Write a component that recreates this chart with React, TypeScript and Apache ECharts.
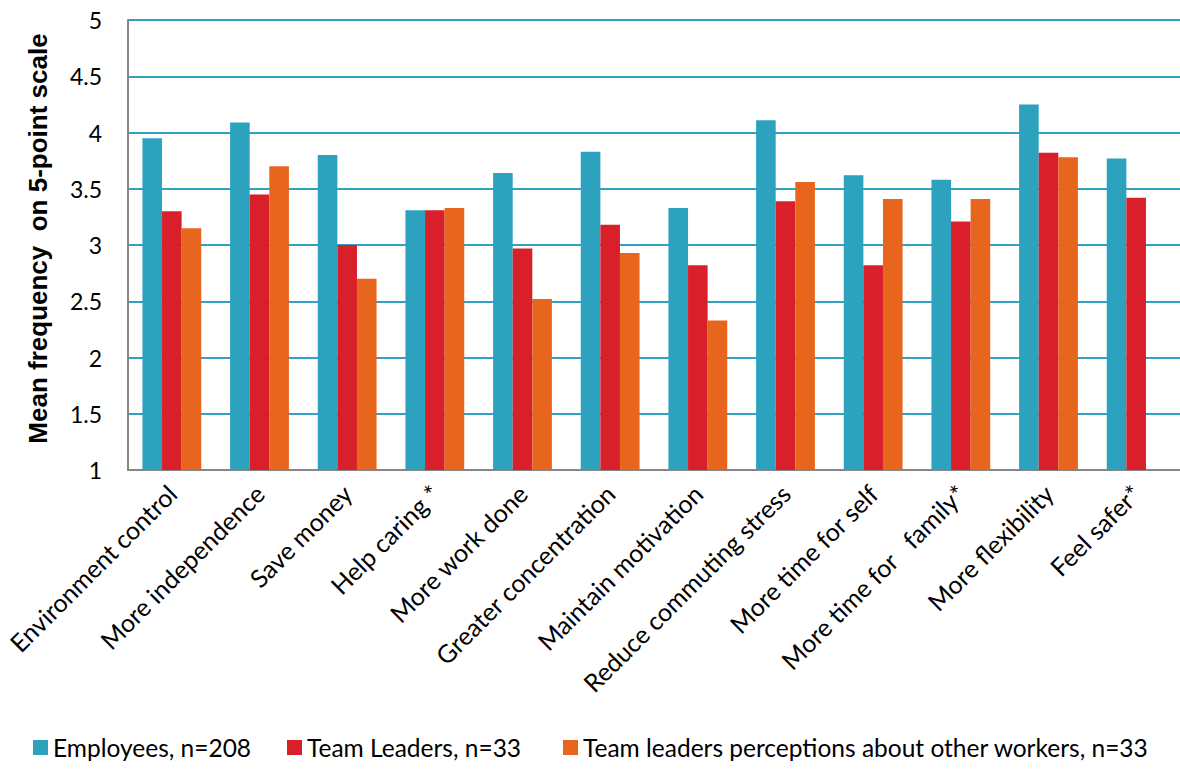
import React, { useEffect, useRef } from "react";
import * as echarts from "echarts";

const categories: string[] = [
  "Environment control",
  "More independence",
  "Save money",
  "Help caring *",
  "More work done",
  "Greater concentration",
  "Maintain motivation",
  "Reduce commuting stress",
  "More time for self",
  "More time for   family*",
  "More flexibility",
  "Feel safer*",
];

const employees: number[] = [3.95, 4.09, 3.8, 3.31, 3.64, 3.83, 3.33, 4.11, 3.62, 3.58, 4.25, 3.77];
const teamLeaders: number[] = [3.3, 3.45, 3.0, 3.31, 2.97, 3.18, 2.82, 3.39, 2.82, 3.21, 3.82, 3.42];
const perceptions: (number | null)[] = [3.15, 3.7, 2.7, 3.33, 2.52, 2.93, 2.33, 3.56, 3.41, 3.41, 3.78, null];

const seriesNames: string[] = [
  "Employees, n=208",
  "Team Leaders, n=33",
  "Team leaders perceptions about other workers, n=33",
];
const colors: string[] = ["#2ca2bf", "#d9202a", "#e8651e"];

const yMin = 1;
const yMax = 5;
const yStep = 0.5;

export default function App() {
  const ref = useRef<HTMLDivElement>(null);
  useEffect(() => {
    if (!ref.current) return;
    const chart = echarts.init(ref.current, null, { renderer: "svg" });
    const font = "Lato, 'Open Sans', sans-serif";
    const data = [employees, teamLeaders, perceptions];
    const legendLefts = [33, 287, 563];
    chart.setOption({
      animation: false,
      backgroundColor: "#ffffff",
      textStyle: { fontFamily: font, color: "#000" },
      legend: seriesNames.map((n, i) => ({
        left: legendLefts[i],
        top: 735,
        padding: 0,
        itemWidth: 15,
        itemHeight: 15,
        itemGap: 5,
        icon: "rect",
        textStyle: { fontFamily: font, fontSize: 24.5, color: "#000" },
        data: [n],
      })),
      grid: { left: 128, top: 20, bottom: 299, width: 1057 },
      xAxis: {
        type: "category",
        data: categories,
        axisLine: { show: true, lineStyle: { color: "#868686", width: 2 } },
        axisTick: { show: false },
        axisLabel: {
          rotate: 45,
          interval: 0,
          margin: 19,
          fontFamily: font,
          fontSize: 25,
          color: "#000",
        },
      },
      yAxis: {
        type: "value",
        min: yMin,
        max: yMax,
        interval: yStep,
        name: "Mean frequency  on 5-point scale",
        nameLocation: "middle",
        nameGap: 77,
        nameTextStyle: {
          fontFamily: "'Liberation Sans', Arial, sans-serif",
          fontWeight: "bold",
          fontSize: 26,
          color: "#000",
          padding: [0, 0, 0, 13],
        },
        axisLine: { show: true, lineStyle: { color: "#868686", width: 2 } },
        axisTick: { show: false },
        axisLabel: {
          margin: 26,
          fontFamily: font,
          fontSize: 23,
          color: "#000",
        },
        splitLine: { show: true, lineStyle: { color: "#2fa4c2", width: 2 } },
      },
      series: data.map((d, i) => ({
        name: seriesNames[i],
        type: "bar",
        data: d,
        barWidth: 19.6,
        barGap: "0%",
        itemStyle: { color: colors[i] },
      })),
    });
    return () => chart.dispose();
  }, []);
  return (
    <div
      ref={ref}
      style={{ position: "fixed", left: 0, top: 0, width: 1180, height: 769, overflow: "hidden" }}
    />
  );
}
